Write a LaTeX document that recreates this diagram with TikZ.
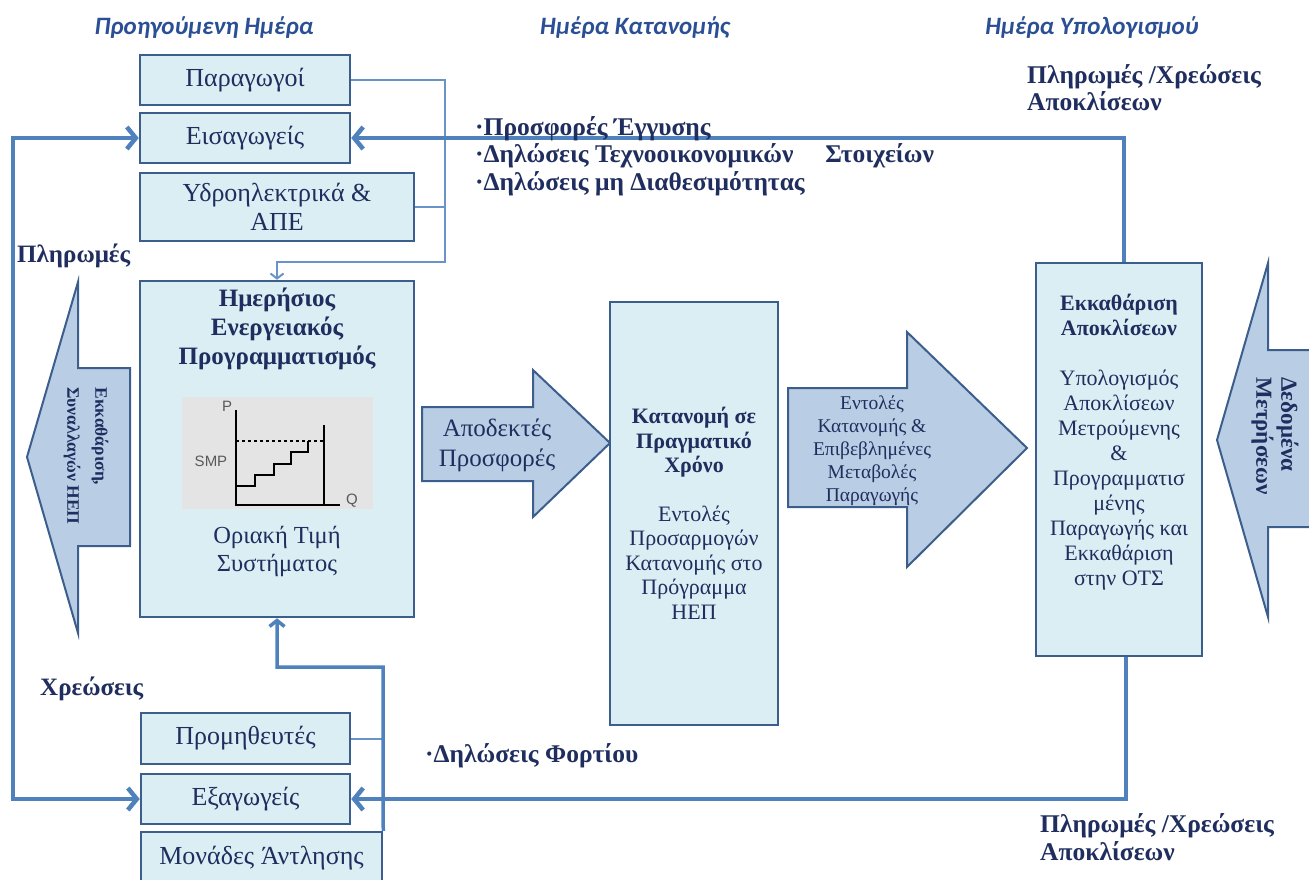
\documentclass[tikz,border=0pt]{standalone}
\usepackage{fontspec}
\setmainfont{Liberation Serif}
\newfontfamily\headfont{Carlito}
\newfontfamily\chartfont{Liberation Sans}
\usetikzlibrary{arrows.meta}

\definecolor{boxfill}{HTML}{DBEEF4}
\definecolor{boxline}{HTML}{3B5E8C}
\definecolor{arrfill}{HTML}{B9CDE5}
\definecolor{connblue}{HTML}{4F81BD}
\definecolor{txtblue}{HTML}{1F2E5E}
\definecolor{headblue}{HTML}{2B4F94}
\definecolor{chartgray}{HTML}{E4E4E4}

\tikzset{
  unitbox/.style={draw=boxline, fill=boxfill, line width=2.5pt, inner sep=0pt,
    text=txtblue, align=center, font=\fontsize{26}{29}\selectfont},
  blockarrow/.style={draw=boxline, fill=arrfill, line width=2pt},
  conn/.style={draw=connblue, line width=4.5pt},
  thinconn/.style={draw=connblue!85, line width=2pt},
  bigtip/.style={-{Straight Barb[length=9pt,width=22pt]}},
  lbl/.style={inner sep=0pt, text=txtblue, font=\bfseries\fontsize{25}{27}\selectfont},
  dayhead/.style={inner sep=0pt, text=headblue, font=\headfont\bfseries\itshape\fontsize{25}{28}\selectfont},
  charttxt/.style={inner sep=0pt, text=black!65, font=\chartfont\fontsize{15}{15}\selectfont}
}

\begin{document}
\begin{tikzpicture}[x=1pt,y=-1pt]
  \useasboundingbox (0,0) rectangle (1309,879);
  \clip (0,0) rectangle (1309,879);

  % day headings
  \node[dayhead] (prevday) at (204,28) {Προηγούμενη Ημέρα};
  \node[dayhead] (dispday) at (635,28) {Ημέρα Κατανομής};
  \node[dayhead] (calcday) at (1092,28) {Ημέρα Υπολογισμού};

  % block arrows
  \filldraw[blockarrow] (27,457) -- (78,282) -- (78,368) -- (130,368) -- (130,546) -- (78,546) -- (78,633) -- cycle;
  \filldraw[blockarrow] (1217,440) -- (1268,263) -- (1268,350) -- (1330,350) -- (1330,527) -- (1268,527) -- (1268,617) -- cycle;
  \filldraw[blockarrow] (422,407) -- (533,407) -- (533,370) -- (610,443) -- (533,517) -- (533,481) -- (422,481) -- cycle;
  \filldraw[blockarrow] (788,388) -- (907,388) -- (907,332) -- (1027,448) -- (907,567) -- (907,507) -- (788,507) -- cycle;

  \node[lbl, font=\bfseries\fontsize{17.5}{28}\selectfont, rotate=-90, align=left] (settlepay) at (86,456) {Εκκαθάριση,\\Συναλλαγών ΗΕΠ};
  \node[lbl, font=\bfseries\fontsize{23}{25}\selectfont, rotate=-90, align=left] (meterdata) at (1275,436) {Δεδομένα\\Μετρήσεων};
  \node[lbl, font=\fontsize{25}{30}\selectfont, align=center] (accbids) at (497,445) {Αποδεκτές\\Προσφορές};
  \node[lbl, font=\fontsize{19.5}{23}\selectfont, align=center] (orders) at (872,451) {Εντολές\\Κατανομής \&\\Επιβεβλημένες\\Μεταβολές\\Παραγωγής};

  % participant boxes
  \node[unitbox, minimum width=210pt, minimum height=50pt] (prod) at (245,80) {Παραγωγοί};
  \node[unitbox, minimum width=210pt, minimum height=50pt] (imp) at (245,138) {Εισαγωγείς};
  \node[unitbox, minimum width=274pt, minimum height=68pt] (hydro) at (277,207) {Υδροηλεκτρικά \&\\ΑΠΕ};
  \node[unitbox, minimum width=209pt, minimum height=51pt] (supp) at (245.5,738.5) {Προμηθευτές};
  \node[unitbox, minimum width=209pt, minimum height=50pt] (exp) at (245.5,799) {Εξαγωγείς};
  \node[unitbox, minimum width=241pt, minimum height=52pt] (pump) at (261.5,858) {Μονάδες Άντλησης};

  % day-ahead scheduling
  \node[unitbox, minimum width=274pt, minimum height=336pt] (dam) at (277,449) {};
  \node[lbl, font=\bfseries\fontsize{25}{29}\selectfont, align=center] (damtitle) at (277,329) {Ημερήσιος\\Ενεργειακός\\Προγραμματισμός};
  \node[fill=chartgray, minimum width=191pt, minimum height=112pt, inner sep=0pt] (chart) at (277.5,453) {};
  \draw[line width=2pt] (236,410) -- (236,505) -- (340,505);
  \draw[line width=2pt] (324,425) -- (324,505);
  \draw[line width=1.2pt, dashed] (236,441) -- (324,441);
  \draw[line width=2.2pt] (236,486) -- (255,486) -- (255,475) -- (274,475) -- (274,464) -- (291,464) -- (291,452) -- (308,452) -- (308,441);
  \node[charttxt] (axisP) at (227,406) {P};
  \node[charttxt] (smplbl) at (211,461) {SMP};
  \node[charttxt] (axisQ) at (352,501) {Q};
  \node[lbl, font=\fontsize{24.5}{28}\selectfont, align=center] (smp) at (277,551) {Οριακή Τιμή\\Συστήματος};

  % real time dispatch
  \node[unitbox, minimum width=168pt, minimum height=423pt, font=\fontsize{22}{24.5}\selectfont] (rtd) at (694,513.5)
    {\textbf{Κατανομή σε}\\\textbf{Πραγματικό}\\\textbf{Χρόνο}\\[24pt]Εντολές\\Προσαρμογών\\Κατανομής στο\\Πρόγραμμα\\ΗΕΠ};

  % imbalance settlement
  \node[unitbox, minimum width=166pt, minimum height=393pt] (settle) at (1119,459.5) {};
  \node[lbl, font=\fontsize{22}{25}\selectfont, align=center] (settletxt) at (1119,442)
    {\textbf{Εκκαθάριση}\\\textbf{Αποκλίσεων}\\[25pt]Υπολογισμός\\Αποκλίσεων\\Μετρούμενης\\\&\\Προγραμματισ\\μένης\\Παραγωγής και\\Εκκαθάριση\\στην ΟΤΣ};

  % connectors
  \coordinate (topbus) at (445,262);
  \coordinate (lowbus) at (383,667);
  \coordinate (leftbus) at (13,450);
  \draw[thinconn, -{Straight Barb[length=5pt,width=13pt]}] (prod.east) -| (topbus) -| (dam.north);
  \draw[thinconn] (hydro.east) -- (hydro.east -| topbus);
  \draw[thinconn] (supp.east) -- (supp.east -| lowbus);
  \draw[conn, line width=3.5pt, -{Straight Barb[length=6pt,width=15pt]}] (pump.north east) -- (lowbus) -| (dam.south);
  \draw[conn, bigtip] ([xshift=5pt]settle.north) |- (imp.east);
  \draw[conn, bigtip] ([xshift=7pt]settle.south) |- (exp.east);
  \draw[conn, {Straight Barb[length=9pt,width=22pt]}-{Straight Barb[length=9pt,width=22pt]}] (imp.west) -| (leftbus) |- (exp.west);

  % labels
  \node[lbl, font=\bfseries\fontsize{25.5}{27.5}\selectfont, anchor=base west, align=left] (bids) at (475,190)
    {·Προσφορές Έγγυσης\\·Δηλώσεις Τεχνοοικονομικών\hspace{32pt}Στοιχείων\\·Δηλώσεις μη Διαθεσιμότητας};
  \node[lbl, font=\bfseries\fontsize{25.5}{27}\selectfont, anchor=base west] (loaddecl) at (425,762) {·Δηλώσεις Φορτίου};
  \node[lbl, anchor=base west] (payments) at (17,262) {Πληρωμές};
  \node[lbl, anchor=base west] (charges) at (40,695) {Χρεώσεις};
  \node[lbl, font=\bfseries\fontsize{25.5}{27}\selectfont, anchor=base west, align=left] (devtop) at (1027,110) {Πληρωμές /Χρεώσεις\\Αποκλίσεων};
  \node[lbl, font=\bfseries\fontsize{25.5}{28}\selectfont, anchor=base west, align=left] (devbot) at (1040,860) {Πληρωμές /Χρεώσεις\\Αποκλίσεων};
\end{tikzpicture}
\end{document}
